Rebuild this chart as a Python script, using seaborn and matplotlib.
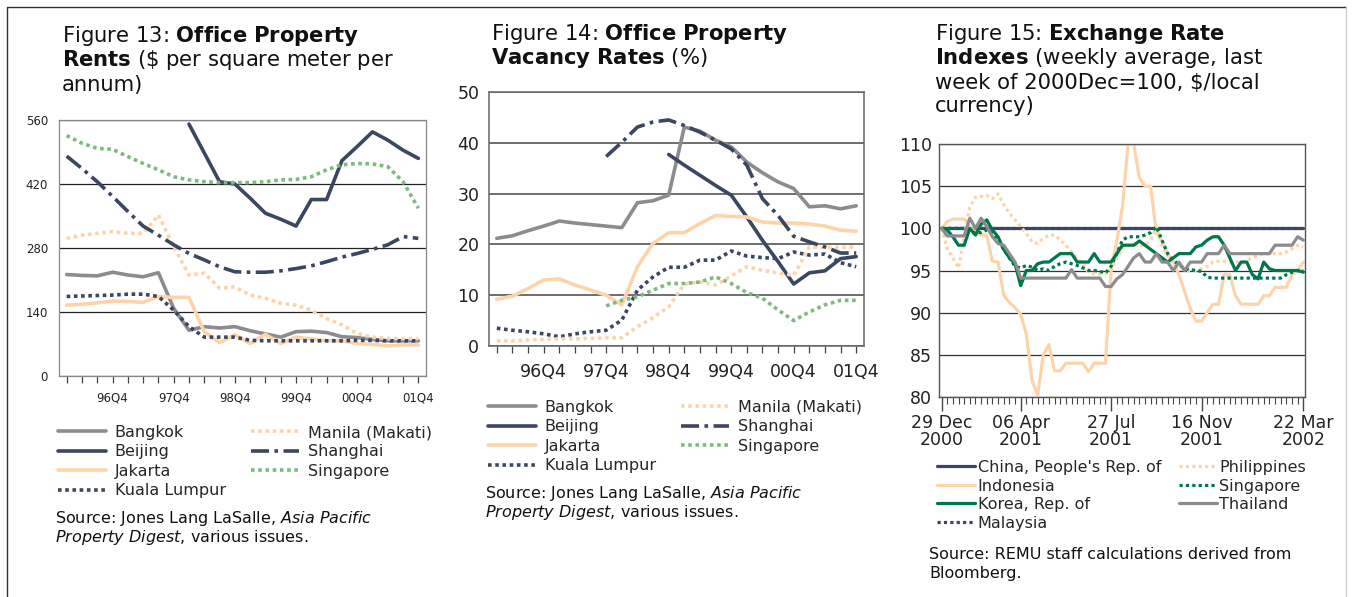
import numpy as np
import pandas as pd
import matplotlib
matplotlib.use("Agg")
import matplotlib.pyplot as plt
import seaborn as sns
from matplotlib.lines import Line2D

sns.set_theme(style="white")
plt.rcParams["font.family"] = ["DejaVu Sans"]
plt.rcParams["mathtext.fontset"] = "dejavusans"

nan = np.nan

# ---- Figure 13: office rents ($ per sq m per annum), quarterly 96Q1..01Q4
quarters = list(range(24))
q_labels = ["", "", "", "96Q4", "", "", "", "97Q4", "", "", "", "98Q4",
            "", "", "", "99Q4", "", "", "", "00Q4", "", "", "", "01Q4"]
rent_bangkok = [222, 220, 219, 227, 221, 217, 226, 148, 100, 108, 105, 108,
                99, 92, 85, 97, 98, 95, 86, 84, 80, 77, 77, 77]
rent_beijing = [nan, nan, nan, nan, nan, nan, nan, nan, 551, 488, 425, 420,
                389, 356, 343, 328, 386, 386, 471, 502, 534, 516, 494, 476]
rent_jakarta = [155, 157, 160, 164, 163, 161, 174, 172, 172, 97, 73, 90,
                71, 91, 71, 85, 81, 77, 77, 71, 69, 66, 68, 68]
rent_kl = [174, 175, 176, 177, 179, 179, 174, 144, 108, 85, 85, 85,
           78, 77, 77, 77, 77, 77, 77, 78, 78, 77, 77, 77]
rent_manila = [301, 308, 312, 316, 312, 312, 352, 283, 221, 225, 192, 195,
               177, 170, 159, 155, 144, 126, 112, 93, 85, 82, 82, 82]
rent_shanghai = [481, 454, 425, 393, 360, 328, 308, 287, 268, 254, 239, 228,
                 227, 227, 230, 235, 241, 250, 260, 268, 277, 287, 305, 301]
rent_singapore = [526, 509, 498, 496, 480, 465, 451, 436, 429, 425, 423, 423,
                  423, 425, 429, 430, 436, 451, 462, 465, 464, 458, 425, 367]

# ---- Figure 14: vacancy rates (%)
vac_bangkok = [21.2, 21.7, 22.7, 23.6, 24.6, 24.2, 23.9, 23.6, 23.3, 28.2, 28.6, 29.7,
               43.1, 42.3, 40.5, 39.2, 36.2, 34.1, 32.3, 31.0, 27.4, 27.6, 27.0, 27.6]
vac_beijing = [nan, nan, nan, nan, nan, nan, nan, nan, nan, nan, nan, 37.7,
               35.6, 33.6, 31.6, 29.7, 25.4, 20.8, 16.6, 12.2, 14.4, 14.8, 17.2, 17.6]
vac_jakarta = [9.2, 9.8, 11.3, 13.0, 13.2, 12.0, 11.0, 10.0, 8.1, 15.6, 20.2, 22.3,
               22.3, 24.1, 25.7, 25.5, 25.4, 24.4, 24.2, 24.2, 24.0, 23.6, 22.8, 22.6]
vac_kl = [3.5, 3.1, 2.8, 2.4, 1.8, 2.4, 2.8, 3.1, 5.1, 11.0, 13.6, 15.5,
          15.5, 16.9, 16.9, 18.7, 17.7, 17.4, 17.2, 18.5, 17.9, 18.1, 16.4, 15.6]
vac_manila = [1.0, 1.0, 1.2, 1.3, 1.4, 1.4, 1.5, 1.6, 1.6, 3.8, 5.6, 7.7,
              12.2, 12.6, 12.0, 13.8, 15.6, 14.9, 14.4, 13.9, 19.5, 19.4, 19.4, 19.5]
vac_shanghai = [nan, nan, nan, nan, nan, nan, nan, 37.3, 40.1, 43.1, 44.1, 44.5,
                43.4, 42.1, 40.5, 38.8, 35.6, 29.0, 25.7, 21.6, 20.5, 19.5, 18.3, 18.3]
vac_singapore = [nan, nan, nan, nan, nan, nan, nan, 7.9, 9.0, 9.7, 11.0, 12.3,
                 12.3, 12.6, 13.6, 12.3, 10.5, 9.4, 7.1, 5.0, 6.7, 8.1, 9.0, 9.0]

# ---- Figure 15: exchange rate indexes, weekly 29 Dec 2000 .. 22 Mar 2002
weeks = list(range(65))
week_ticks = [0, 14, 30, 46, 64]
week_labels = ["29 Dec\n2000", "06 Apr\n2001", "27 Jul\n2001", "16 Nov\n2001", "22 Mar\n2002"]
fx_china = [100.0] * 65
fx_malaysia = [100.0] * 65
fx_indonesia = [100.0, 100.8, 101.1, 101.1, 101.1, 100.2, 99.5, 99.2, 99.2, 96.1,
                96.0, 92.1, 91.2, 90.6, 89.8, 87.5, 82.0, 80.2, 85.0, 86.2,
                83.1, 83.1, 84.0, 84.0, 84.0, 84.0, 83.0, 84.0, 84.0, 84.0,
                95.0, 98.5, 102.5, 110.0, 110.0, 106.0, 105.0, 105.0, 99.5, 98.5,
                97.0, 96.0, 94.5, 92.5, 90.5, 89.0, 89.0, 90.0, 91.0, 91.0,
                94.5, 94.5, 92.0, 91.0, 91.0, 91.0, 91.0, 92.0, 92.0, 93.0,
                93.0, 93.0, 94.5, 95.0, 96.0]
fx_korea = [100.0, 99.8, 99.0, 98.0, 98.0, 100.0, 99.2, 100.5, 101.0, 99.8,
            99.0, 97.5, 96.5, 95.8, 93.2, 95.0, 95.0, 95.8, 96.0, 96.0,
            96.5, 97.0, 97.0, 97.0, 96.0, 96.0, 96.0, 97.0, 96.0, 96.0,
            96.0, 97.0, 98.0, 98.0, 98.0, 98.5, 98.0, 97.5, 97.0, 96.5,
            96.0, 96.5, 97.0, 97.0, 97.0, 97.8, 98.0, 98.6, 99.0, 99.0,
            98.0, 96.5, 95.0, 96.0, 96.0, 94.5, 94.0, 96.0, 95.2, 95.0,
            95.0, 95.0, 95.0, 95.0, 94.8]
fx_philippines = [100.0, 97.6, 96.5, 95.3, 99.0, 102.5, 103.7, 103.8, 103.9, 103.5,
                  104.1, 102.8, 101.8, 101.0, 100.2, 99.4, 98.4, 98.2, 98.8, 99.2,
                  99.2, 98.6, 98.0, 97.2, 96.5, 95.7, 94.8, 94.6, 94.6, 94.6,
                  95.0, 96.5, 97.6, 98.0, 98.0, 98.0, 98.0, 98.6, 100.2, 98.0,
                  96.8, 96.0, 95.4, 95.0, 95.0, 95.0, 95.2, 95.5, 96.0, 96.1,
                  96.1, 96.0, 96.0, 96.0, 96.2, 96.5, 96.8, 97.0, 97.0, 97.0,
                  97.0, 97.2, 97.6, 98.0, 97.8]
fx_singapore = [100.0, 100.0, 100.0, 100.0, 100.0, 99.5, 99.5, 99.5, 99.8, 99.5,
                98.5, 97.5, 96.5, 95.5, 95.3, 95.6, 95.4, 95.0, 95.2, 95.0,
                95.5, 95.8, 96.0, 95.8, 95.6, 95.3, 95.0, 95.0, 94.9, 94.7,
                95.5, 97.0, 98.6, 99.0, 99.0, 99.0, 99.2, 99.5, 100.2, 98.6,
                97.0, 96.2, 95.7, 95.2, 95.1, 95.0, 94.9, 94.2, 94.1, 94.1,
                94.1, 94.1, 94.1, 94.1, 94.1, 94.1, 94.1, 94.1, 94.1, 94.1,
                94.1, 94.5, 94.8, 95.0, 95.0]
fx_thailand = [100.0, 99.1, 99.1, 99.1, 99.1, 101.2, 100.0, 101.2, 100.2, 99.0,
               98.2, 98.0, 97.0, 96.0, 94.1, 94.1, 94.1, 94.1, 94.1, 94.1,
               94.1, 94.1, 94.1, 95.1, 94.1, 94.1, 94.1, 94.1, 94.1, 93.1,
               93.1, 94.0, 94.5, 95.5, 96.5, 97.0, 96.0, 96.0, 97.0, 96.0,
               96.0, 95.0, 96.0, 95.0, 96.0, 96.0, 96.0, 97.0, 97.0, 97.0,
               98.0, 97.0, 97.0, 97.0, 97.0, 97.0, 97.0, 97.0, 97.0, 98.0,
               98.0, 98.0, 98.0, 99.0, 98.6]

# colours and line styles
NAVY = "#3b4660"
GRAY = "#8c8c90"
PEACH = "#fcd4aa"
LGREEN = "#7fb97f"
DGREEN = "#00774a"
SOLID = "-"
DOT = (0, (1, 1))
DASHDOT = (0, (5, 1.5, 1, 1.5))

W, H = 1352, 597


def fx(x):
    return x / W


def fy(y):
    return 1 - y / H


def rect(l, t, r, b):
    return [fx(l), fy(b), (r - l) / W, (b - t) / H]


def draw(ax, x, series, lw):
    for name, vals, color, ls in series:
        df = pd.DataFrame({"x": x, "y": vals}).dropna()
        sns.lineplot(data=df, x="x", y="y", ax=ax, color=color, lw=lw,
                     linestyle=ls, label=name, estimator=None, errorbar=None)
    ax.set_xlabel("")
    ax.set_ylabel("")


def frame(ax, color, lw):
    for s in ax.spines.values():
        s.set_visible(True)
        s.set_color(color)
        s.set_linewidth(lw)


def legend(ax, x, y, hl, tp, cs, ls, order=None):
    h, l = ax.get_legend_handles_labels()
    if order is not None:
        d = dict(zip(l, h))
        h, l = [d[k] for k in order], order
    ax.legend(h, l, loc="upper left", bbox_to_anchor=(fx(x), fy(y)),
              bbox_transform=fig.transFigure, ncol=2, frameon=False,
              fontsize=11.5, handlelength=hl, handletextpad=tp, columnspacing=cs,
              labelspacing=ls, borderpad=0, borderaxespad=0)


def text_lines(x, baselines, lines, size):
    for yb, s in zip(baselines, lines):
        fig.text(fx(x), fy(yb), s, fontsize=size, va="baseline", ha="left",
                 color="#111111")


fig = plt.figure(figsize=(W / 100, H / 100), dpi=100)

# ---------------- Figure 13
ax1 = fig.add_axes(rect(59, 120, 426, 376))
draw(ax1, quarters, [
    ("Bangkok", rent_bangkok, GRAY, SOLID),
    ("Beijing", rent_beijing, NAVY, SOLID),
    ("Jakarta", rent_jakarta, PEACH, SOLID),
    ("Kuala Lumpur", rent_kl, NAVY, DOT),
    ("Manila (Makati)", rent_manila, PEACH, DOT),
    ("Shanghai", rent_shanghai, NAVY, DASHDOT),
    ("Singapore", rent_singapore, LGREEN, DOT),
], 2.6)
ax1.set_xlim(-0.5, 23.5)
ax1.set_ylim(0, 560)
ax1.set_yticks([0, 140, 280, 420, 560])
ax1.set_xticks(quarters)
ax1.set_xticklabels(q_labels)
ax1.yaxis.grid(True, color="#222222", lw=0.9)
ax1.tick_params(axis="x", bottom=True, length=5, width=0.9, color="#444444",
                pad=6, labelsize=8.5, labelcolor="#222222")
ax1.tick_params(axis="y", length=0, pad=8, labelsize=8.5, labelcolor="#222222")
frame(ax1, "#888888", 0.9)
legend(ax1, 58, 425, 3.0, 0.55, 1.6, 0.28)

# ---------------- Figure 14
ax2 = fig.add_axes(rect(489, 92, 864, 346))
draw(ax2, quarters, [
    ("Bangkok", vac_bangkok, GRAY, SOLID),
    ("Beijing", vac_beijing, NAVY, SOLID),
    ("Jakarta", vac_jakarta, PEACH, SOLID),
    ("Kuala Lumpur", vac_kl, NAVY, DOT),
    ("Manila (Makati)", vac_manila, PEACH, DOT),
    ("Shanghai", vac_shanghai, NAVY, DASHDOT),
    ("Singapore", vac_singapore, LGREEN, DOT),
], 2.6)
ax2.set_xlim(-0.5, 23.5)
ax2.set_ylim(0, 50)
ax2.set_yticks([0, 10, 20, 30, 40, 50])
ax2.set_xticks(quarters)
ax2.set_xticklabels(q_labels)
ax2.yaxis.grid(True, color="#555555", lw=1.2)
ax2.tick_params(axis="x", bottom=True, length=5, width=0.9, color="#444444",
                pad=7, labelsize=12.5, labelcolor="#222222")
ax2.tick_params(axis="y", length=0, pad=7, labelsize=12.5, labelcolor="#222222")
frame(ax2, "#666666", 1.1)
legend(ax2, 488, 400, 3.0, 0.55, 1.6, 0.28)

# ---------------- Figure 15
ax3 = fig.add_axes(rect(939, 144, 1305, 397))
draw(ax3, weeks, [
    ("Malaysia", fx_malaysia, NAVY, DOT),
    ("China, People's Rep. of", fx_china, NAVY, SOLID),
    ("Indonesia", fx_indonesia, PEACH, SOLID),
    ("Philippines", fx_philippines, PEACH, DOT),
    ("Singapore", fx_singapore, DGREEN, DOT),
    ("Korea, Rep. of", fx_korea, DGREEN, SOLID),
    ("Thailand", fx_thailand, GRAY, SOLID),
], 2.3)
ax3.set_xlim(-0.45, 64.3)
ax3.set_ylim(80, 110)
ax3.set_yticks([80, 85, 90, 95, 100, 105, 110])
ax3.set_xticks(week_ticks)
ax3.set_xticklabels(week_labels, linespacing=0.95)
ax3.set_xticks(weeks, minor=True)
ax3.yaxis.grid(True, color="#333333", lw=0.9)
ax3.tick_params(axis="x", which="major", bottom=True, length=10, width=1,
                color="#444444", pad=2, labelsize=12.5, labelcolor="#222222")
ax3.tick_params(axis="x", which="minor", bottom=True, length=5, width=0.8,
                color="#444444")
ax3.tick_params(axis="y", length=0, pad=5, labelsize=12.5, labelcolor="#222222")
frame(ax3, "#555555", 1.0)
legend(ax3, 937, 460, 2.4, 0.15, 1.1, 0.22,
       order=["China, People's Rep. of", "Indonesia", "Korea, Rep. of", "Malaysia",
              "Philippines", "Singapore", "Thailand"])

# ---------------- titles and sources
TS = 15.2
text_lines(62, [42.5, 66.5, 90.5], [
    "Figure 13: $\\mathbf{Office\\ Property}$",
    "$\\mathbf{Rents}$ (\\$ per square meter per",
    "annum)"], TS)
text_lines(491, [40.5, 64.5], [
    "Figure 14: $\\mathbf{Office\\ Property}$",
    "$\\mathbf{Vacancy\\ Rates}$ (%)"], TS)
text_lines(935, [40.5, 64.5, 88.5, 112.5], [
    "Figure 15: $\\mathbf{Exchange\\ Rate}$",
    "$\\mathbf{Indexes}$ (weekly average, last",
    "week of 2000Dec=100, \\$/local",
    "currency)"], TS)

SS = 11.5
text_lines(55, [523, 542], [
    "Source: Jones Lang LaSalle, $\\mathit{Asia\\ Pacific}$",
    "$\\mathit{Property\\ Digest}$, various issues."], SS)
text_lines(485, [498, 517], [
    "Source: Jones Lang LaSalle, $\\mathit{Asia\\ Pacific}$",
    "$\\mathit{Property\\ Digest}$, various issues."], SS)
text_lines(929, [559, 578], [
    "Source: REMU staff calculations derived from",
    "Bloomberg."], SS)

# page border
fig.add_artist(Line2D([fx(7), fx(7)], [fy(7), 0], color="#333333", lw=1))
fig.add_artist(Line2D([fx(7), fx(1346)], [fy(7), fy(7)], color="#333333", lw=1))
fig.add_artist(Line2D([fx(1346), fx(1346)], [fy(7), 0], color="#cccccc", lw=1))

fig.savefig("out.png", dpi=100, facecolor="white")
